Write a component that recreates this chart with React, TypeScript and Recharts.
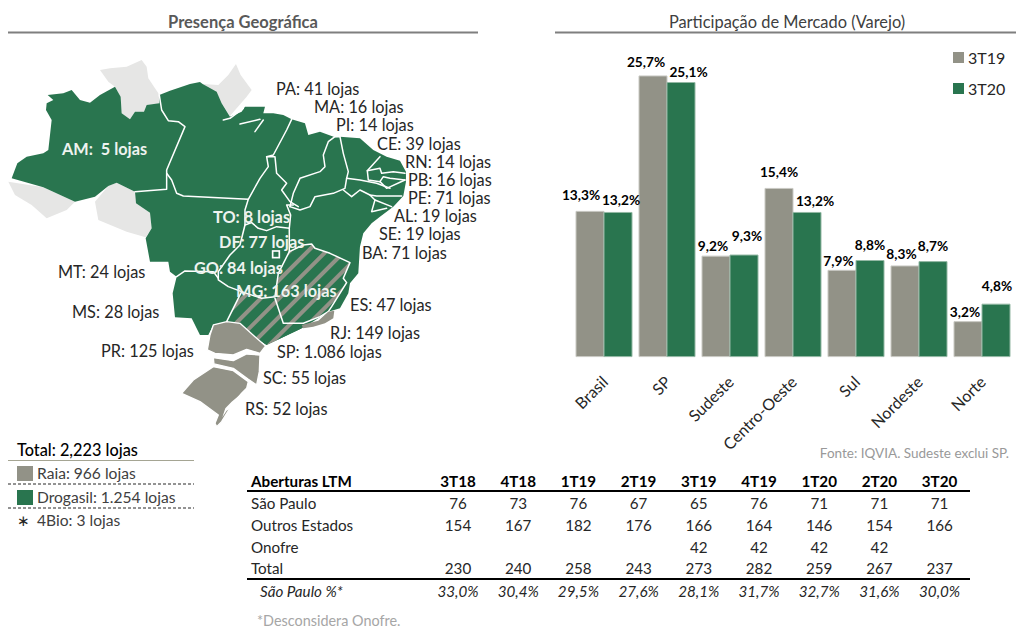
import React from "react";
import { BarChart, Bar, XAxis, YAxis, Legend, LabelList } from "recharts";

const regions = ["Brasil", "SP", "Sudeste", "Centro-Oeste", "Sul", "Nordeste", "Norte"];
const share3T19 = [13.3, 25.7, 9.2, 15.4, 7.9, 8.3, 3.2];
const share3T20 = [13.2, 25.1, 9.3, 13.2, 8.8, 8.7, 4.8];
const chartRows = regions.map((region, i) => ({ region, s19: share3T19[i], s20: share3T20[i] }));

const labelDx19 = [-9, -7, -3, 0, -3.5, -3.5, -3];
const labelGap19 = [17, 14, 11, 17, 10, 12, 10.5];
const labelDx20 = [3, 7.5, 3, 8, 0, 0, 1];
const labelGap20 = [12.5, 11, 20, 12, 16, 16, 19];

const tableHead = ["3T18", "4T18", "1T19", "2T19", "3T19", "4T19", "1T20", "2T20", "3T20"];
const rowSaoPaulo = ["76", "73", "76", "67", "65", "76", "71", "71", "71"];
const rowOutros = ["154", "167", "182", "176", "166", "164", "146", "154", "166"];
const rowOnofre = ["", "", "", "", "42", "42", "42", "42", ""];
const rowTotal = ["230", "240", "258", "243", "273", "282", "259", "267", "237"];
const rowPct = ["33,0%", "30,4%", "29,5%", "27,6%", "28,1%", "31,7%", "32,7%", "31,6%", "30,0%"];

const storeLabels: [string, number, number][] = [
  ["PA: 41 lojas", 276, 88], ["MA: 16 lojas", 314, 106], ["PI: 14 lojas", 336, 124],
  ["CE: 39 lojas", 377, 143], ["RN: 14 lojas", 405, 161], ["PB: 16 lojas", 408, 179],
  ["PE: 71 lojas", 408, 197], ["AL: 19 lojas", 394, 215], ["SE: 19 lojas", 379, 233],
  ["BA: 71 lojas", 362, 252], ["MT: 24 lojas", 58, 271], ["MS: 28 lojas", 72, 311],
  ["PR: 125 lojas", 101, 350], ["ES: 47 lojas", 350, 304], ["RJ: 149 lojas", 330, 332],
  ["SP: 1.086 lojas", 277, 351], ["SC: 55 lojas", 263, 377], ["RS: 52 lojas", 245, 408],
];
const whiteLabels: [string, number, number][] = [
  ["AM:  5 lojas", 62, 148], ["TO: 8 lojas", 213, 216], ["DF: 77 lojas", 219, 241],
  ["GO: 84 lojas", 194, 267], ["MG: 163 lojas", 236, 290],
];

const GREEN = "#29754f";
const GREY = "#929287";
const LIGHT = "#e6e6e5";
const FONT = "Lato, Carlito, sans-serif";

const p = (pts: number[][]) => pts.map((q) => q.join(",")).join(" ");

const neighbourA = [[300,30],[330,25],[380,20],[425,0],[440,20],[445,55],[475,100],[480,132],[440,135],[432,155],[405,155],[390,178],[365,160],[362,110],[345,80],[325,65]];
const neighbourB = [[608,72],[655,75],[685,45],[708,12],[722,45],[755,90],[740,110],[710,145],[690,168],[665,130],[650,100]];
const neighbourC = [[25,365],[130,382],[225,425],[200,450],[140,475],[95,435],[45,405]];
const neighbourD = [[285,425],[325,378],[350,368],[405,395],[408,430],[450,458],[455,505],[437,532],[380,515],[295,480]];

const silhouette = [[35,355],[52,310],[80,290],[130,280],[145,270],[155,180],[138,150],[140,130],[160,120],[143,105],[190,100],[215,90],[240,120],[270,128],[300,105],[345,80],[362,110],[365,160],[390,178],[405,155],[432,155],[440,135],[478,130],[478,105],[510,92],[570,72],[600,66],[608,72],[650,95],[665,130],[690,170],[725,155],[735,140],[795,140],[790,160],[820,160],[850,165],[875,178],[915,190],[925,225],[960,215],[1005,232],[1020,230],[1080,235],[1120,270],[1160,290],[1200,302],[1218,335],[1218,365],[1210,408],[1180,440],[1140,470],[1115,490],[1090,520],[1080,560],[1075,640],[1050,670],[1045,700],[1020,745],[985,755],[915,800],[800,855],[680,785],[640,795],[625,825],[600,825],[575,775],[525,772],[518,700],[530,650],[510,635],[505,605],[450,605],[437,535],[455,505],[450,458],[408,430],[405,395],[350,368],[325,378],[285,410],[225,425],[130,382]];

const mgShape = [[868,575],[910,555],[935,552],[945,565],[990,580],[1050,608],[1030,655],[1040,668],[995,740],[985,755],[960,770],[910,790],[850,790],[825,720],[825,710],[835,640]];
const spShape = [[725,695],[785,715],[825,715],[850,790],[910,790],[915,800],[800,855],[765,830],[720,790],[680,785]];
const rjShape = [[985,755],[1003,752],[1000,775],[975,790],[940,800],[910,805],[905,795],[955,782]];
const prShape = [[640,795],[680,785],[720,790],[765,830],[797,858],[780,880],[740,868],[700,885],[645,880],[622,870],[630,825]];
const scShape = [[640,893],[700,902],[740,882],[780,885],[778,935],[770,975],[745,958],[700,925],[642,912]];
const rsShape = [[640,920],[700,932],[745,965],[740,985],[725,1000],[700,1030],[680,1060],[665,1085],[650,1100],[645,1090],[655,1065],[600,1025],[545,1000],[580,960]];
const lagoon = [[722,1003],[714,1035],[680,1052],[667,1072],[676,1045],[695,1025]];

const borders: number[][][] = [
  [[478,105],[485,150],[505,182],[535,185],[555,200],[500,330],[500,388],[405,395]],
  [[500,340],[515,360],[530,400],[550,408],[745,418]],
  [[745,418],[780,355],[805,320],[800,290],[820,285],[860,210],[875,178]],
  [[800,290],[825,290],[830,340],[860,370],[845,390],[870,425],[895,440]],
  [[745,418],[735,450],[735,495],[755,488],[775,505],[800,512],[830,500],[868,505],[872,465],[860,435],[880,435]],
  [[735,495],[720,555],[690,585],[655,635],[655,660],[685,680],[725,695],[785,715],[825,710],[835,640],[868,575],[868,505]],
  [[530,650],[555,633],[640,635],[655,655]],
  [[868,575],[910,555],[935,552],[945,565],[990,580],[1050,608],[1030,655],[1040,668],[995,740],[985,755]],
  [[825,715],[850,790],[910,790],[960,770],[985,755]],
  [[725,695],[680,785]],
  [[870,440],[880,400],[900,355],[960,335],[975,320],[970,285],[985,245],[1005,230],[1020,230]],
  [[1020,230],[1030,280],[1045,335],[1040,355]],
  [[870,440],[900,450],[930,440],[945,410],[1000,400],[1035,385],[1040,355]],
  [[1040,355],[1080,360],[1130,370],[1170,385]],
  [[1030,390],[1055,410],[1080,390],[1110,405],[1130,408],[1205,408]],
  [[1140,290],[1102,332],[1105,360],[1140,365],[1150,350],[1170,355],[1215,360]],
  [[1102,332],[1140,325],[1145,340],[1180,335],[1215,340]],
  [[1140,365],[1160,385],[1215,360]],
  [[1110,405],[1125,420],[1115,455],[1160,445]],
  [[1125,420],[1175,440]],
  [[670,180],[690,175],[730,145]],
  [[720,192],[780,178]],
  [[765,215],[790,180]],
];

function Map() {
  return (
    <g transform="translate(0,60) scale(0.3333)">
      <defs>
        <pattern id="hatch" width="39" height="39" patternUnits="userSpaceOnUse" patternTransform="rotate(45)">
          <rect width="39" height="39" fill={GREEN} />
          <rect width="12" height="39" fill={GREY} />
        </pattern>
      </defs>
      {[neighbourA, neighbourB, neighbourC, neighbourD].map((n, i) => (
        <polygon key={i} points={p(n)} fill={LIGHT} />
      ))}
      <polygon points={p(silhouette)} fill={GREEN} />
      <polygon points={p(mgShape)} fill="url(#hatch)" />
      <polygon points={p(spShape)} fill="url(#hatch)" />
      {borders.map((b, i) => (
        <polyline key={i} points={p(b)} fill="none" stroke="#fff" strokeWidth={4.5} strokeLinejoin="round" strokeLinecap="round" />
      ))}
      <polygon points={p(rjShape)} fill={GREY} />
      {[prShape, scShape, rsShape].map((s, i) => (
        <polygon key={i} points={p(s)} fill={GREY} stroke="#fff" strokeWidth={4} strokeLinejoin="round" />
      ))}
      <polygon points={p(lagoon)} fill="#fff" />
      <rect x={818} y={573} width={20} height={20} fill={GREEN} stroke="#fff" strokeWidth={5} />
    </g>
  );
}

const TableRow = ({ label, cells, y, bold, italic, labelX = 251 }: any) => (
  <g fontStyle={italic ? "italic" : "normal"} fontWeight={bold ? 700 : 400} fill={bold ? "#000" : "#262626"} fontSize={15.2}>
    <text x={labelX} y={y} dominantBaseline="central">{label}</text>
    {cells.map((c: string, i: number) => (
      <text key={i} x={458 + i * 60.2} y={y} textAnchor="middle" dominantBaseline="central">{c}</text>
    ))}
  </g>
);

const CategoryTick = ({ x, y, payload }: any) => (
  <text x={x + 1} y={y + 14} textAnchor="end" fontSize={16} fill="#262626" fontFamily={FONT}
    transform={`rotate(-45, ${x + 1}, ${y + 14})`} dominantBaseline="central">
    {payload.value}
  </text>
);

const makeLabel = (dxs: number[], gaps: number[]) => (props: any) => {
  const { x, y, width, index, value } = props;
  return (
    <text x={x + width / 2 + dxs[index]} y={y - gaps[index]} textAnchor="middle" dominantBaseline="central"
      fontSize={13.7} fontWeight={700} fill="#000" fontFamily={FONT}>
      {String(value.toFixed(1)).replace(".", ",")}%
    </text>
  );
};

const ChartLegend = () => (
  <div style={{ position: "absolute", left: 0, top: 0, width: 60, fontFamily: FONT, fontSize: 16, color: "#262626" }}>
    {[["3T19", GREY], ["3T20", GREEN]].map(([name, col]) => (
      <div key={name} style={{ display: "flex", alignItems: "center", height: 31 }}>
        <span style={{ width: 11, height: 11, background: col, marginRight: 4 }} />
        {name}
      </div>
    ))}
  </div>
);

export default function App() {
  return (
    <div style={{ position: "absolute", left: 0, top: 0, width: 1016, height: 627, overflow: "hidden", background: "#fff", fontFamily: FONT }}>
      <svg width={1016} height={627} style={{ position: "absolute", left: 0, top: 0 }} fontFamily={FONT}>
        <Map />
        <text x={243} y={22} textAnchor="middle" dominantBaseline="central" fontSize={16.5} fontWeight={700} fill="#595959">Presença Geográfica</text>
        <line x1={8} x2={478} y1={32.5} y2={32.5} stroke="#7f7f7f" strokeWidth={2} />
        <text x={787} y={21} textAnchor="middle" dominantBaseline="central" fontSize={16.4} fill="#404040">Participação de Mercado (Varejo)</text>
        <line x1={555} x2={1016} y1={32.5} y2={32.5} stroke="#7f7f7f" strokeWidth={2} />

        {storeLabels.map(([t, x, y]) => (
          <text key={t} x={x} y={y} dominantBaseline="central" fontSize={16.3} fill="#262626">{t}</text>
        ))}
        {whiteLabels.map(([t, x, y]) => (
          <text key={t} x={x} y={y} dominantBaseline="central" fontSize={16.3} fontWeight={700} fill="#eef3ef" style={{ whiteSpace: "pre" }}>{t}</text>
        ))}

        <text x={17} y={449} dominantBaseline="central" fontSize={16.3} fontWeight={500} fill="#000">Total: 2,223 lojas</text>
        <line x1={8} x2={194} y1={460.5} y2={460.5} stroke="#a5a593" />
        <rect x={17} y={466} width={16} height={15} fill={GREY} />
        <text x={37} y={473} dominantBaseline="central" fontSize={15.6} fill="#404040">Raia: 966 lojas</text>
        <line x1={8} x2={194} y1={484} y2={484} stroke="#262626" strokeDasharray="3 2" />
        <rect x={17} y={490} width={16} height={15} fill={GREEN} />
        <text x={37} y={497} dominantBaseline="central" fontSize={15.6} fill="#404040">Drogasil: 1.254 lojas</text>
        <line x1={8} x2={194} y1={508} y2={508} stroke="#262626" strokeDasharray="3 2" />
        <text x={23} y={520} textAnchor="middle" dominantBaseline="central" fontSize={15} fill="#262626">∗</text>
        <text x={37} y={520} dominantBaseline="central" fontSize={15.6} fill="#404040">4Bio: 3 lojas</text>

        <TableRow label="Aberturas LTM" cells={tableHead} y={481} bold />
        <line x1={247} x2={970} y1={491} y2={491} stroke="#000" strokeWidth={2} />
        <TableRow label="São Paulo" cells={rowSaoPaulo} y={503} />
        <TableRow label="Outros Estados" cells={rowOutros} y={525} />
        <TableRow label="Onofre" cells={rowOnofre} y={547} />
        <TableRow label="Total" cells={rowTotal} y={568} />
        <line x1={247} x2={970} y1={579} y2={579} stroke="#000" strokeWidth={2} />
        <TableRow label="São Paulo %*" cells={rowPct} y={591} italic labelX={260} />
        <text x={257} y={620} dominantBaseline="central" fontSize={14.4} fill="#a6a6a6">*Desconsidera Onofre.</text>
        <text x={1009} y={453} textAnchor="end" dominantBaseline="central" fontSize={13.5} fill="#999">Fonte: IQVIA. Sudeste exclui SP.</text>
      </svg>

      <div style={{ position: "absolute", left: 0, top: 0 }}>
        <BarChart width={1016} height={470} data={chartRows} margin={{ left: 572, right: 3, top: 29, bottom: 0 }}
          barGap={0} barSize={28}>
          <XAxis dataKey="region" axisLine={false} tickLine={false} interval={0} height={113.4} tick={<CategoryTick />} />
          <YAxis hide domain={[0, 30]} />
          <Legend layout="vertical" verticalAlign="top" align="right" content={<ChartLegend />}
            wrapperStyle={{ position: "absolute", left: 953, top: 42, width: 0, height: 0 }} />
          <Bar dataKey="s19" name="3T19" fill={GREY} stroke="#c9c9c3" isAnimationActive={false}>
            <LabelList dataKey="s19" content={makeLabel(labelDx19, labelGap19)} />
          </Bar>
          <Bar dataKey="s20" name="3T20" fill={GREEN} stroke="#93b8a4" isAnimationActive={false}>
            <LabelList dataKey="s20" content={makeLabel(labelDx20, labelGap20)} />
          </Bar>
        </BarChart>
      </div>
    </div>
  );
}
